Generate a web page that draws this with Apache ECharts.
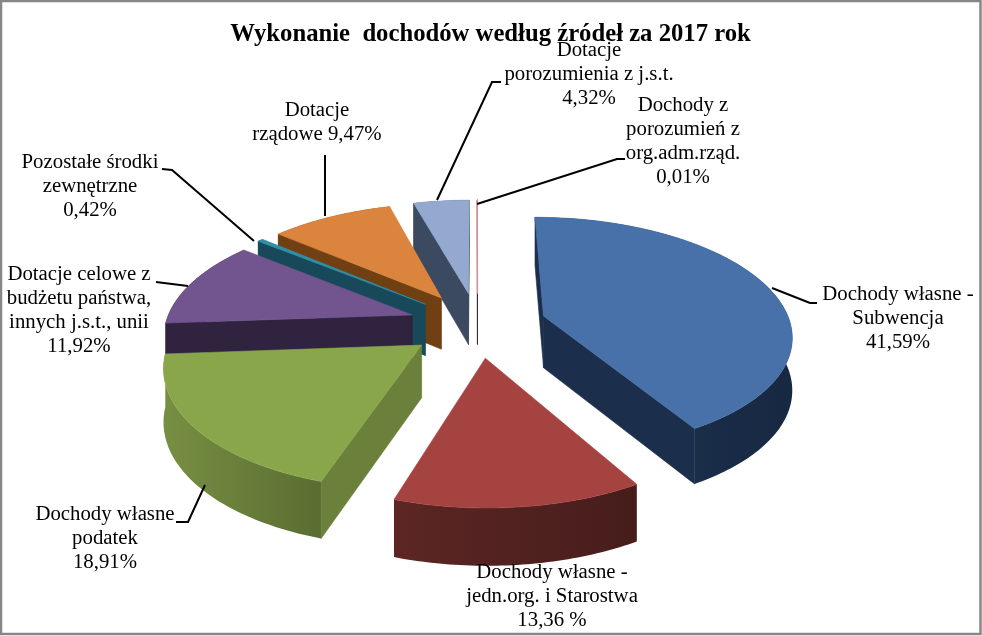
<!DOCTYPE html>
<html><head><meta charset="utf-8">
<style>html,body{margin:0;padding:0;background:#fff}#c{width:982px;height:636px}</style>
<script src="https://cdn.jsdelivr.net/npm/echarts@6/dist/echarts.min.js"></script>
</head><body><div id="c"></div>
<script>
const titleText = 'Wykonanie  dochodów według źródeł za 2017 rok';
const categories = ['Dochody własne - Subwencja','Dochody własne - jedn.org. i Starostwa','Dochody własne podatek','Dotacje celowe z budżetu państwa, innych j.s.t., unii','Pozostałe środki zewnętrzne','Dotacje rządowe','Dotacje porozumienia z j.s.t.','Dochody z porozumień z org.adm.rząd.'];
const shares = [41.59,13.36,18.91,11.92,0.42,9.47,4.32,0.01];
const labelTexts = ['Dochody własne -\nSubwencja\n41,59%','Dochody własne -\njedn.org. i Starostwa\n13,36 %','Dochody własne\npodatek\n18,91%','Dotacje celowe z\nbudżetu państwa,\ninnych j.s.t., unii\n11,92%','Pozostałe środki\nzewnętrzne\n0,42%','Dotacje\nrządowe 9,47%','Dotacje\nporozumienia z j.s.t.\n4,32%','Dochody z\nporozumień z\norg.adm.rząd.\n0,01%'];
const topColors = ['#4771A8','#A54341','#8AA64B','#72548F','#2F8FAB','#DA843D','#93A9CF','#D98F98'];
const sideColors = ['#1B2F4D','#522220','#6A803B','#2F2340','#17495A','#703F12','#3B4961','#4A2030'];

// layout of the 3D projection and of the annotations
const CX=477.5, CY=324.5, R=247, RY=116, PERSP=0.15, EXPLODE=0.28, DEPTH=52;
const labelPos = [[898,319],[552,597],[105,539],[79,311],[90,187],[317,123],[589,75],[683,142]];
const leaders = [[[772,288],[810,303],[817,303]],null,[[205,485],[188,522],[176,522]],[[188,286],[156,282]],[[254,241],[172,170],[162,169]],[[325,216],[325,155]],[[437,200],[492,82],[501,82]],[[477,204],[617,159],[625,159]]];

const total = shares.reduce((a,b)=>a+b,0);
function project(u,v,z){
  const f=1/(1-PERSP*v);
  return [CX+R*u*f, CY+RY*v*f+z*DEPTH*Math.sqrt(f)];
}
function mix(hex,k){
  const n=parseInt(hex.slice(1),16);
  const c=[n>>16,(n>>8)&255,n&255].map(x=>Math.max(0,Math.min(255,Math.round(x*k))));
  return 'rgb('+c.join(',')+')';
}
function area(p){let s=0;for(let i=0;i<p.length;i++){const a=p[i],b=p[(i+1)%p.length];s+=a[0]*b[1]-b[0]*a[1];}return s;}
function poly(points,fill,z2,stroke,lw){
  return {type:'polygon',z2,shape:{points},style:{fill,stroke:stroke||fill,lineWidth:lw==null?0.6:lw,lineJoin:'round'}};
}
function renderSlice(params,api){
  const i=params.dataIndex, val=api.value(0);
  let before=0; for(let k=0;k<i;k++) before+=shares[k];
  const a0=before/total*2*Math.PI, a1=(before+val)/total*2*Math.PI, mid=(a0+a1)/2;
  const ou=EXPLODE*Math.sin(mid), ov=-EXPLODE*Math.cos(mid);
  const base=10*(Math.round(-Math.cos(mid)*100)+200);
  const at=(a,z)=>project(ou+Math.sin(a),ov-Math.cos(a),z);
  const A=project(ou,ov,0), Ab=project(ou,ov,1);
  const steps=Math.max(2,Math.ceil((a1-a0)/(Math.PI/180)));
  const rim=[]; for(let s=0;s<=steps;s++) rim.push(a0+(a1-a0)*s/steps);
  const children=[];
  // outer wall as one polygon with a left-to-right shade
  const rimTop=rim.map(a=>at(a,0)), rimBot=rim.map(a=>at(a,1));
  const xs=rimTop.map(p=>p[0]);
  const minX=Math.min.apply(null,xs), maxX=Math.max.apply(null,xs);
  const grad=new echarts.graphic.LinearGradient(minX,0,Math.max(maxX,minX+1),0,[{offset:0,color:mix(sideColors[i],1.12)},{offset:1,color:mix(sideColors[i],0.85)}],true);
  children.push({type:'polygon',z2:base+1,shape:{points:rimTop.concat(rimBot.slice().reverse())},style:{fill:grad}});
  // radial walls facing the viewer
  const w0=[A,at(a0,0),at(a0,1),Ab], w1=[A,at(a1,0),at(a1,1),Ab];
  if(area(w0)<=0) children.push(poly(w0,sideColors[i],base+2,null,val<0.1?1:0.6));
  if(area(w1)>=0) children.push(poly(w1,sideColors[i],base+3,null,val<0.1?1:0.6));
  // top face
  const top=[A].concat(rimTop);
  children.push(poly(top,topColors[i],base+4,null,val<0.1?1.2:0.6));
  return {type:'group',children};
}
function renderNote(params,api){
  const i=params.dataIndex, children=[];
  if(leaders[i]) children.push({type:'polyline',z2:5000,shape:{points:leaders[i]},style:{fill:null,stroke:'#000',lineWidth:2}});
  children.push({type:'text',z2:5001,x:labelPos[i][0],y:labelPos[i][1],style:{text:labelTexts[i],fill:'#000',font:'20.8px "Liberation Serif"',lineHeight:24,align:'center',verticalAlign:'middle'}});
  return {type:'group',children};
}
const chart=echarts.init(document.getElementById('c'),null,{renderer:'canvas'});
chart.setOption({
  animation:false,
  backgroundColor:'#fff',
  title:{text:titleText,left:485.5,top:17,textAlign:'center',textStyle:{fontFamily:'Liberation Serif',fontWeight:'bold',fontSize:24.7,color:'#000'}},
  graphic:[{type:'rect',z:-1,shape:{x:1,y:1,width:979.5,height:633},style:{fill:'#fff',stroke:'#868686',lineWidth:2.5}}],
  series:[
    {type:'custom',coordinateSystem:'none',name:'Dochody',data:shares.map((v,i)=>({name:categories[i],value:[v]})),renderItem:renderSlice,silent:true,z:2},
    {type:'custom',coordinateSystem:'none',data:shares.map((v,i)=>({name:categories[i],value:[v]})),renderItem:renderNote,silent:true,z:3}
  ]
});
</script></body></html>
